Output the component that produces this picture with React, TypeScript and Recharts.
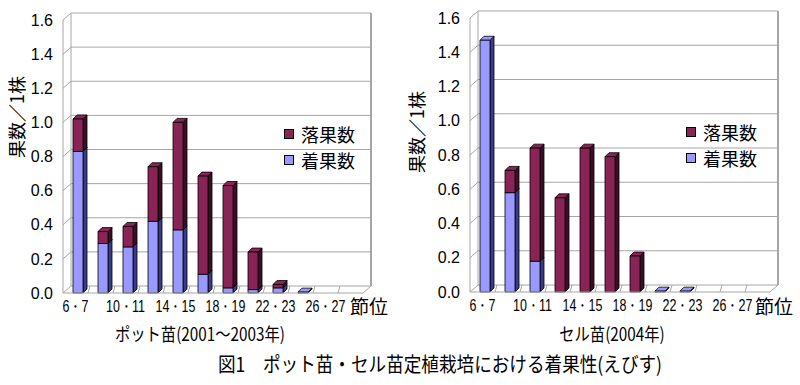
import React from "react";
import { BarChart, Bar, XAxis, YAxis, CartesianGrid, Legend } from "recharts";

const categories = ["6・7", "8・9", "10・11", "12・13", "14・15", "16・17", "18・19", "20・21", "22・23", "24・25", "26・27", "28・29"];
// ポット苗 (2001~2003)
const potSet = [0.83, 0.29, 0.27, 0.42, 0.37, 0.11, 0.03, 0.02, 0.03, 0.005, 0, 0];
const potDrop = [0.19, 0.07, 0.12, 0.32, 0.63, 0.575, 0.6, 0.22, 0.02, 0, 0, 0];
// セル苗 (2004)
const cellSet = [1.47, 0.58, 0.18, 0, 0, 0, 0, 0.005, 0.005, 0, 0, 0];
const cellDrop = [0, 0.13, 0.66, 0.55, 0.84, 0.79, 0.21, 0, 0, 0, 0, 0];
const yTicks = [0, 0.2, 0.4, 0.6, 0.8, 1.0, 1.2, 1.4, 1.6];
const seriesNames = ["着果数", "落果数"];

const BLUE = "#9999FF";
const BLUE_SIDE = "#3B3B8C";
const RED = "#8A2456";
const RED_SIDE = "#3E0C25";
const GRID = "#A6A6A6";
const JP = "'Noto Sans CJK JP', 'Noto Sans', sans-serif";
const NUM = "'Liberation Sans', Arial, sans-serif";

const WALL_DX = 8;
const WALL_DY = -7;

const makeRows = (set: number[], drop: number[]) =>
  categories.map((c, i) => ({ cat: c, set: set[i], drop: drop[i] }));

const potRows = makeRows(potSet, potDrop);
const cellRows = makeRows(cellSet, cellDrop);

// 3D-looking bar: front face, side face, top face
const Bar3D = (props: any) => {
  const { x, y, width, height, fill, side } = props;
  if (height == null || height <= 0) return null;
  const d = 4;
  const x0 = x + 2;
  const w = width;
  return (
    <g stroke="#000" strokeWidth={0.8} strokeLinejoin="round">
      <polygon
        points={`${x0 + w},${y} ${x0 + w + d},${y - d} ${x0 + w + d},${y + height - d} ${x0 + w},${y + height}`}
        fill={side}
      />
      <polygon
        points={`${x0},${y} ${x0 + d},${y - d} ${x0 + w + d},${y - d} ${x0 + w},${y}`}
        fill={fill}
      />
      <rect x={x0} y={y} width={w} height={height} fill={fill} />
    </g>
  );
};

const gridLine = (p: any) => {
  const { x1, y1, x2, index, x, y, width, height } = p;
  return (
    <g key={`h-${index}`} stroke={GRID} strokeWidth={1} fill="none">
      <line x1={x1} y1={y1} x2={x1 + WALL_DX} y2={y1 + WALL_DY} />
      <line x1={x1 + WALL_DX} y1={y1 + WALL_DY} x2={x2 + WALL_DX} y2={y1 + WALL_DY} />
      {index === 0 && (
        <>
          <line x1={x + WALL_DX} y1={y + WALL_DY} x2={x + WALL_DX} y2={y + height + WALL_DY} />
          <line
            x1={x + width + WALL_DX}
            y1={y + WALL_DY}
            x2={x + width + WALL_DX}
            y2={y + height + WALL_DY}
            strokeWidth={2}
          />
          <line x1={x + width} y1={y + height} x2={x + width + WALL_DX} y2={y + height + WALL_DY} />
        </>
      )}
    </g>
  );
};

const floorTick = (p: any) => {
  const { x1, y2, index } = p;
  return <line key={`v-${index}`} x1={x1} y1={y2} x2={x1 + 2} y2={y2 + WALL_DY} stroke={GRID} />;
};

const CatTick = (props: any) => {
  const { x, y, payload } = props;
  return (
    <g transform={`translate(${x},${y}) scale(0.78,1)`}>
      <text x={0} y={0} dy="0.71em" textAnchor="middle" fontSize={16} fontFamily={NUM} fill="#000">
        {payload.value}
      </text>
    </g>
  );
};

const legendContent = () => (
  <div style={{ fontFamily: JP, fontSize: 18, lineHeight: "26px", color: "#000" }}>
    {[
      { name: seriesNames[1], color: RED },
      { name: seriesNames[0], color: BLUE },
    ].map((it) => (
      <div key={it.name} style={{ display: "flex", alignItems: "center", whiteSpace: "nowrap" }}>
        <span
          style={{
            display: "inline-block",
            width: 8,
            height: 8,
            background: it.color,
            border: "1px solid #000",
            marginRight: 7,
          }}
        />
        {it.name}
      </div>
    ))}
  </div>
);

const FruitChart = ({ rows, margin, xHeight, legendPos }: any) => {
  const vCoords = ({ offset }: any) =>
    categories.slice(1).map((_, i) => offset.left + ((i + 1) * offset.width) / categories.length);
  return (
    <BarChart width={400} height={320} data={rows} margin={margin} barSize={10}>
      <CartesianGrid
        horizontal={gridLine}
        vertical={floorTick}
        verticalCoordinatesGenerator={vCoords}
      />
      <XAxis
        dataKey="cat"
        interval={1}
        height={xHeight}
        tickSize={0}
        tickMargin={8}
        tick={<CatTick />}
        axisLine={{ stroke: GRID }}
        tickLine={false}
      />
      <YAxis
        width={40}
        domain={[0, 1.6]}
        ticks={yTicks}
        tickFormatter={(v: number) => v.toFixed(1)}
        tickSize={0}
        tickMargin={10}
        tickLine={false}
        axisLine={{ stroke: GRID }}
        tick={{ fontSize: 16, fontFamily: NUM, fill: "#000" }}
        interval={0}
      />
      <Legend
        layout="vertical"
        align="center"
        verticalAlign="middle"
        content={legendContent}
        wrapperStyle={{ position: "absolute", left: legendPos.left, top: legendPos.top, width: 110 }}
      />
      <Bar
        dataKey="set"
        name={seriesNames[0]}
        stackId="a"
        fill={BLUE}
        isAnimationActive={false}
        shape={(p: any) => <Bar3D {...p} side={BLUE_SIDE} />}
      />
      <Bar
        dataKey="drop"
        name={seriesNames[1]}
        stackId="a"
        fill={RED}
        isAnimationActive={false}
        shape={(p: any) => <Bar3D {...p} side={RED_SIDE} />}
      />
    </BarChart>
  );
};

const abs = (style: React.CSSProperties): React.CSSProperties => ({
  position: "absolute",
  whiteSpace: "nowrap",
  fontFamily: JP,
  color: "#000",
  ...style,
});

export default function App() {
  return (
    <div style={{ position: "absolute", left: 0, top: 0, width: 800, height: 385, background: "#fff", overflow: "hidden" }}>
      <div style={{ position: "absolute", left: 0, top: 0 }}>
        <FruitChart
          rows={potRows}
          margin={{ top: 20, right: 37, bottom: 0, left: 23 }}
          xHeight={27}
          legendPos={{ left: 284, top: 121 }}
        />
      </div>
      <div style={{ position: "absolute", left: 400, top: 0 }}>
        <FruitChart
          rows={cellRows}
          margin={{ top: 18, right: 30, bottom: 0, left: 30 }}
          xHeight={28}
          legendPos={{ left: 286, top: 119 }}
        />
      </div>

      <div style={abs({ left: 16, top: 117, fontSize: 18, transform: "translate(-50%,-50%) rotate(-90deg)" })}>
        果数／1株
      </div>
      <div style={abs({ left: 416, top: 132, fontSize: 18, transform: "translate(-50%,-50%) rotate(-90deg)" })}>
        果数／1株
      </div>

      <div style={abs({ left: 350, top: 294, fontSize: 19, lineHeight: "24px" })}>節位</div>
      <div style={abs({ left: 755, top: 294, fontSize: 19, lineHeight: "24px" })}>節位</div>

      <div style={abs({ left: 200, top: 333, fontSize: 18, transform: "translate(-50%,-50%) scaleX(0.85)" })}>
        ポット苗(2001〜2003年)
      </div>
      <div style={abs({ left: 612, top: 333, fontSize: 18, transform: "translate(-50%,-50%) scaleX(0.85)" })}>
        セル苗(2004年)
      </div>
      <div style={abs({ left: 440, top: 363, fontSize: 20, transform: "translate(-50%,-50%) scaleX(0.88)" })}>
        図1　ポット苗・セル苗定植栽培における着果性(えびす)
      </div>
    </div>
  );
}
